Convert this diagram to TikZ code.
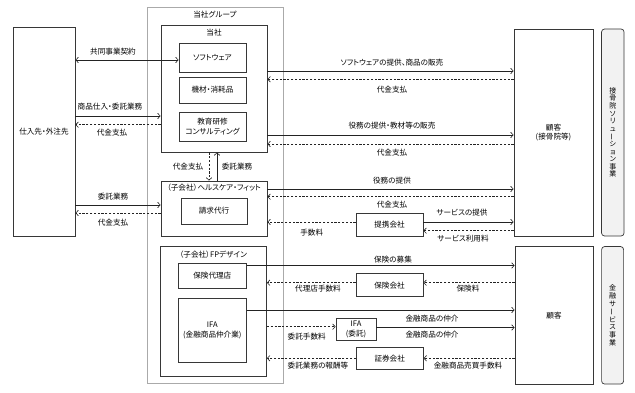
\documentclass[tikz,border=0pt]{standalone}
\usepackage{fontspec}
\setmainfont{Noto Sans CJK JP}[RawFeature=+palt]
\usepackage{graphicx}
\usetikzlibrary{arrows.meta, positioning}
\definecolor{BoxLine}{RGB}{55,55,55}
\definecolor{GroupLine}{RGB}{170,170,170}
\definecolor{PanelFill}{RGB}{242,242,242}
\definecolor{FlowLine}{RGB}{35,35,35}

\tikzset{
  box/.style={draw=BoxLine, line width=0.7pt, align=center, inner sep=1pt},
  grpbox/.style={draw=GroupLine, line width=0.8pt},
  panel/.style={draw=BoxLine, fill=PanelFill, line width=0.7pt, rounded corners=3pt,
    align=center, inner sep=0pt, font=\fontsize{7}{7.6}\selectfont},
  lbl/.style={inner sep=0.5pt},
  flow/.style={draw=FlowLine, line width=0.6pt, ->},
  pay/.style={flow, dash pattern=on 2.2pt off 1.6pt}
}

\begin{document}
\begin{tikzpicture}[x=1pt, y=-1pt, >={Straight Barb[length=2.6pt,width=5.5pt]},
    font=\fontsize{7.6}{9.8}\selectfont]
  \useasboundingbox (0,0) rectangle (635,393);

  % group frame and boxes
  \node[grpbox, minimum width=136, minimum height=376] (grp) at (215,195) {};
  \node[lbl] (grpname) at (215,15) {当社グループ};
  \node[box, minimum width=62, minimum height=209] (sup) at (44,131.5) {仕入先・外注先};

  \node[box, minimum width=106, minimum height=127] (tosha) at (214,88.5) {};
  \node[lbl] (toshaname) at (214,33) {当社};
  \node[box, minimum width=67, minimum height=29] (soft) at (212.5,57.5) {ソフトウェア};
  \node[box, minimum width=67, minimum height=26] (kizai) at (212.5,90) {機材・消耗品};
  \node[box, minimum width=67, minimum height=29] (kyoiku) at (212.5,126.5) {教育研修\\コンサルティング};

  \node[box, minimum width=106, minimum height=55] (hcf) at (214,208.5) {};
  \node[lbl] (hcfname) at (214,188) {（子会社）ヘルスケア・フィット};
  \node[box, minimum width=66, minimum height=26] (seikyu) at (214,211) {請求代行};

  \node[box, minimum width=106.5, minimum height=129.5] (fpd) at (213.3,311.3) {};
  \node[lbl] (fpdname) at (213.3,255) {（子会社）FPデザイン};
  \node[box, minimum width=68.5, minimum height=25] (dairi) at (212.3,275.5) {保険代理店};
  \node[box, minimum width=68.5, minimum height=64] (ifa) at (212.3,330.8) {IFA\\(金融商品仲介業)};

  \node[box, minimum width=67, minimum height=23] (teikei) at (389.5,224.5) {提携会社};
  \node[box, minimum width=67, minimum height=23] (hoken) at (389.5,285.3) {保険会社};
  \node[box, minimum width=40, minimum height=22.5] (ifaitaku) at (356,329.5) {IFA\\(委託)};
  \node[box, minimum width=67, minimum height=22] (shoken) at (389.7,358.3) {証券会社};

  \node[box, minimum width=79, minimum height=207] (cust1) at (553.5,132.5) {顧客\\(接骨院等)};
  \node[box, minimum width=78, minimum height=137.5] (cust2) at (554,315.3) {顧客};
  \node[panel, minimum width=22.5, minimum height=207] (seg1) at (612.8,132.5)
    {接\\骨\\院\\ソ\\リ\\ュ\\\rotatebox[origin=c]{90}{ー}\\シ\\ョ\\ン\\事\\業};
  \node[panel, minimum width=22, minimum height=137.5] (seg2) at (612.6,315.3)
    {金\\融\\サ\\\rotatebox[origin=c]{90}{ー}\\ビ\\ス\\事\\業};

  % suppliers
  \draw[flow, <->] (sup.east |- 0,60) -- (soft.west |- 0,60);
  \node[lbl] (l1) at (113,52) {共同事業契約};
  \draw[flow] (sup.east |- 0,116) -- (tosha.west |- 0,116);
  \node[lbl] (l2) at (110,107) {商品仕入・委託業務};
  \draw[pay] (tosha.west |- 0,124.7) -- (sup.east |- 0,124.7);
  \node[lbl] (l3) at (112,132.7) {代金支払};
  \draw[flow] (sup.east |- 0,205) -- (hcf.west |- 0,205);
  \node[lbl] (l4) at (113,197) {委託業務};
  \draw[pay] (hcf.west |- 0,213) -- (sup.east |- 0,213);
  \node[lbl] (l5) at (113,223) {代金支払};

  % inside the group
  \draw[pay] (tosha.south -| 209,0) -- (hcf.north -| 209,0);
  \node[lbl] (l6) at (188,167) {代金支払};
  \draw[flow] (hcf.north -| 217,0) -- (tosha.south -| 217,0);
  \node[lbl] (l7) at (237,167) {委託業務};

  % customers (seikotsu)
  \draw[flow] (tosha.east |- 0,71) -- (cust1.west |- 0,71);
  \node[lbl] (l8) at (392,62.7) {ソフトウェアの提供、商品の販売};
  \draw[pay] (cust1.west |- 0,79.3) -- (tosha.east |- 0,79.3);
  \node[lbl] (l9) at (392,89.3) {代金支払};
  \draw[flow] (tosha.east |- 0,135) -- (cust1.west |- 0,135);
  \node[lbl] (l10) at (392,126) {役務の提供・教材等の販売};
  \draw[pay] (cust1.west |- 0,144) -- (tosha.east |- 0,144);
  \node[lbl] (l11) at (392,152.7) {代金支払};
  \draw[flow] (hcf.east |- 0,189) -- (cust1.west |- 0,189);
  \node[lbl] (l12) at (392,180.7) {役務の提供};
  \draw[pay] (cust1.west |- 0,196.7) -- (hcf.east |- 0,196.7);
  \node[lbl] (l13) at (392,205) {代金支払};
  \draw[pay] (teikei.west |- 0,222) -- (hcf.east |- 0,222);
  \node[lbl] (l14) at (311.7,232.7) {手数料};
  \draw[flow] (teikei.east |- 0,222) -- (cust1.west |- 0,222);
  \node[lbl] (l15) at (462,212.7) {サービスの提供};
  \draw[pay] (cust1.west |- 0,230.7) -- (teikei.east |- 0,230.7);
  \node[lbl] (l16) at (463,239) {サービス利用料};

  % customers (finance)
  \draw[flow] (dairi.east |- 0,265.5) -- (cust2.west |- 0,265.5);
  \node[lbl] (l17) at (393,259.5) {保険の募集};
  \draw[pay] (hoken.west |- 0,282.7) -- (fpd.east |- 0,282.7);
  \node[lbl] (l18) at (318,289) {代理店手数料};
  \draw[pay] (cust2.west |- 0,282.7) -- (hoken.east |- 0,282.7);
  \node[lbl] (l19) at (468,289) {保険料};
  \draw[flow] (ifa.east |- 0,310) -- (cust2.west |- 0,310);
  \node[lbl] (l20) at (432,318.3) {金融商品の仲介};
  \draw[pay] (fpd.east |- 0,326.7) -- (ifaitaku.west |- 0,326.7);
  \node[lbl] (l21) at (306.7,336.7) {委託手数料};
  \draw[flow] (ifaitaku.east |- 0,327.5) -- (cust2.west |- 0,327.5);
  \node[lbl] (l22) at (432,335) {金融商品の仲介};
  \draw[pay] (shoken.west |- 0,358.3) -- (fpd.east |- 0,358.3);
  \node[lbl] (l23) at (318,365.5) {委託業務の報酬等};
  \draw[pay] (cust2.west |- 0,358.3) -- (shoken.east |- 0,358.3);
  \node[lbl] (l24) at (468,365.5) {金融商品売買手数料};
\end{tikzpicture}
\end{document}
